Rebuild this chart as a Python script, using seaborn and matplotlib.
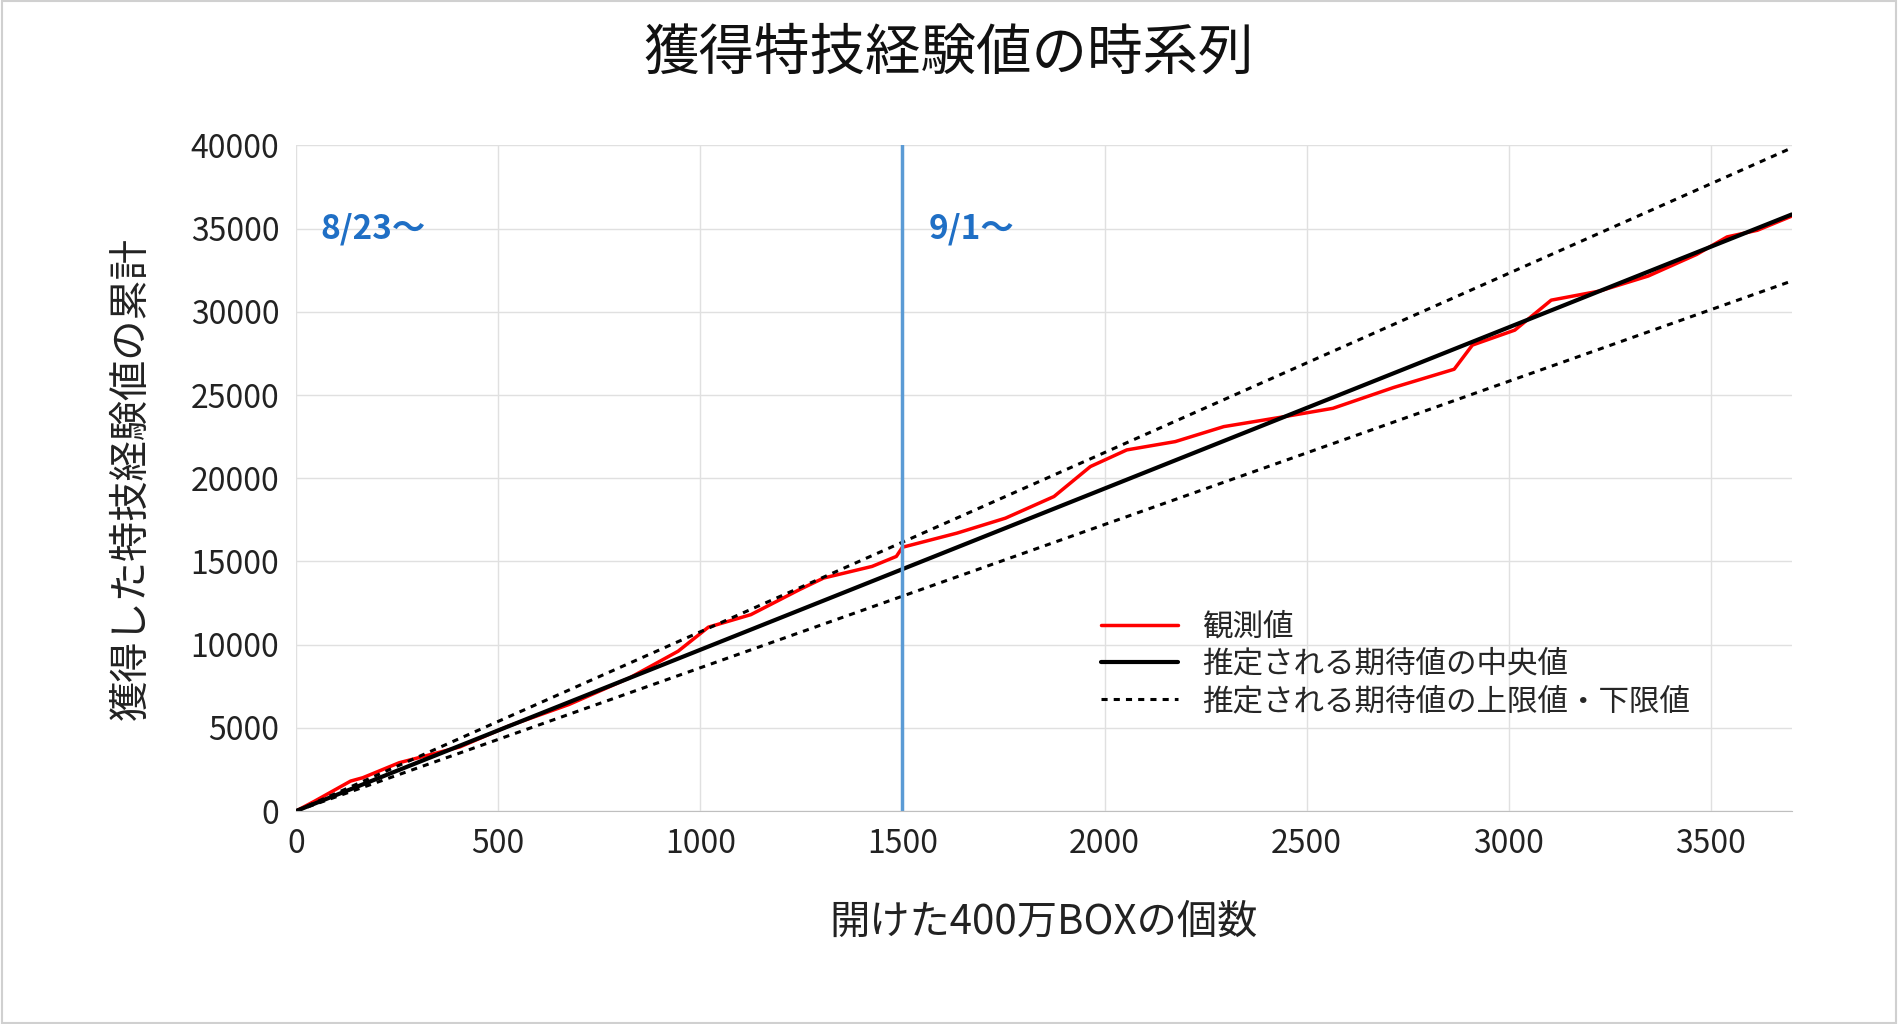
import matplotlib
matplotlib.use("Agg")
import matplotlib.pyplot as plt
import seaborn as sns
import numpy as np
import pandas as pd

boxes = [0, 45, 135, 165, 255, 405, 525, 675, 825, 945, 1020, 1125, 1245, 1305, 1425, 1485, 1500,
         1635, 1755, 1875, 1965, 2055, 2175, 2295, 2445, 2565, 2715, 2865, 2910, 3015, 3105,
         3225, 3345, 3465, 3540, 3615, 3705]
observed = [0, 580, 1800, 2000, 2900, 3850, 5100, 6400, 8000, 9600, 11050, 11800, 13300, 14000,
            14700, 15300, 15850, 16700, 17600, 18900, 20700, 21700, 22200, 23100, 23700, 24200,
            25450, 26550, 28000, 28900, 30700, 31250, 32150, 33450, 34500, 34900, 35800]
est_x = [0, 3700]
median = [0, 35850]
upper = [0, 39850]
lower = [0, 31850]
xticks = [0, 500, 1000, 1500, 2000, 2500, 3000, 3500]
yticks = [0, 5000, 10000, 15000, 20000, 25000, 30000, 35000, 40000]

sns.set_style("white")
font = "Noto Sans CJK JP"
plt.rcParams["font.family"] = font
plt.rcParams["font.sans-serif"] = [font, "DejaVu Sans"]

fig = plt.figure(figsize=(18.98, 10.24), dpi=100)
fig.patches.append(plt.Rectangle((0.001, 0.001), 0.998, 0.998, transform=fig.transFigure,
                                 fill=False, edgecolor="#D0D0D0", linewidth=1.5))
ax = fig.add_axes([0.156, 0.208, 0.788, 0.65])

sns.lineplot(x=boxes, y=observed, ax=ax, color="#FF0000", linewidth=2.5, label="観測値")
sns.lineplot(x=est_x, y=median, ax=ax, color="black", linewidth=3, label="推定される期待値の中央値")
sns.lineplot(x=est_x, y=upper, ax=ax, color="black", linewidth=2.2, linestyle=(0, (2, 2)),
             label="推定される期待値の上限値・下限値")
sns.lineplot(x=est_x, y=lower, ax=ax, color="black", linewidth=2.2, linestyle=(0, (2, 2)))
ax.axvline(1500, color="#5B9BD5", linewidth=2.5)

ax.set_xlim(0, 3700)
ax.set_ylim(0, 40000)
ax.set_xticks(xticks)
ax.set_yticks(yticks)
ax.tick_params(labelsize=23, length=0, pad=12, labelcolor="#222222")
ax.grid(True, color="#E0E0E0", linewidth=1)
for s in ["left", "top", "right"]:
    ax.spines[s].set_visible(False)
ax.spines["bottom"].set_color("#BFBFBF")

ax.text(60, 35000, "8/23～", color="#1F6FC5", fontsize=24, fontweight="bold", va="center")
ax.text(1565, 35000, "9/1～", color="#1F6FC5", fontsize=24, fontweight="bold", va="center")

ax.set_xlabel("開けた400万BOXの個数", fontsize=29, labelpad=30, color="#222222")
ax.set_ylabel("獲得した特技経験値の累計", fontsize=29, labelpad=28, color="#222222")
fig.suptitle("獲得特技経験値の時系列", fontsize=40, y=0.975, color="#111111")

leg = ax.legend(loc="lower left", bbox_to_anchor=(0.52, 0.10), fontsize=22, frameon=False,
                handlelength=2.5, labelspacing=0.2)

fig.savefig("out.png", dpi=100)
